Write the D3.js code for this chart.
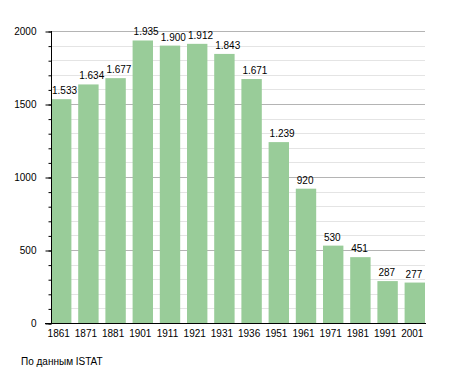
<!DOCTYPE html>
<html>
<head>
<meta charset="utf-8">
<script src="https://cdn.jsdelivr.net/npm/d3@7"></script>
<style>
    body { margin: 0; background: #fff; }
    text { font-family: "Liberation Sans", Arial, sans-serif; fill: #000; }
</style>
</head>
<body>
<div id="chart"></div>
<script>
var years = ["1861", "1871", "1881", "1901", "1911", "1921", "1931", "1936", "1951", "1961", "1971", "1981", "1991", "2001"];
var population = [1533, 1634, 1677, 1935, 1900, 1912, 1843, 1671, 1239, 920, 530, 451, 287, 277];
var majorTicks = [0, 500, 1000, 1500, 2000];
var minorTicks = d3.range(0, 2001, 100);
var source = "По данным  ISTAT";

var width = 455,
    height = 373;

var x = d3.scaleBand().range([51, 425])
    .domain(years)
    .paddingInner(0.25)
    .paddingOuter(0);

var y = d3.scaleLinear().range([323, 31])
    .domain([0, 2000]);

var fmt = d3.formatLocale({decimal: ",", thousands: ".", grouping: [3], currency: ["", ""]}).format(",d");

var svg = d3.select("#chart")
    .append("svg")
    .attr("width", width)
    .attr("height", height);

// minor grid
svg.append("g")
    .selectAll("line")
    .data(minorTicks.filter(d => d % 500 != 0))
    .enter()
    .append("line")
    .attr("x1", 51)
    .attr("x2", 425)
    .attr("y1", d => Math.round(y(d)) + 0.5)
    .attr("y2", d => Math.round(y(d)) + 0.5)
    .style("stroke", "#e4e4e4");

// major grid
svg.append("g")
    .selectAll("line")
    .data(majorTicks.filter(d => d > 0))
    .enter()
    .append("line")
    .attr("x1", 51)
    .attr("x2", 425)
    .attr("y1", d => Math.round(y(d)) + 0.5)
    .attr("y2", d => Math.round(y(d)) + 0.5)
    .style("stroke", "#b4b4b4");

svg.selectAll("rect.bar")
    .data(population)
    .enter()
    .append("rect")
    .attr("class", "bar")
    .attr("x", (d, i) => x(years[i]))
    .attr("y", d => y(d))
    .attr("width", x.bandwidth())
    .attr("height", d => y(0) - y(d))
    .style("fill", "#99cc99");

svg.selectAll("text.val")
    .data(population)
    .enter()
    .append("text")
    .attr("class", "val")
    .attr("x", (d, i) => x(years[i]) + 1)
    .attr("y", d => y(d) - 5)
    .style("font-size", "10px")
    .text(d => fmt(d));

// y axis: minor ticks
var yMinor = d3.axisLeft(y).tickValues(minorTicks).tickSize(3).tickFormat("");
svg.append("g")
    .attr("transform", "translate(51.5,0)")
    .call(yMinor)
    .call(g => g.select(".domain").remove())
    .call(g => g.selectAll("line").attr("transform", "translate(0,0.5)"));

var yAxis = d3.axisLeft(y).tickValues(majorTicks).tickSize(6).tickPadding(9).tickFormat(d3.format("d"));
svg.append("g")
    .attr("transform", "translate(51.5,0)")
    .call(yAxis)
    .call(g => g.select(".domain").attr("d", "M0," + y(2000) + "V" + y(0)))
    .call(g => g.selectAll("line").attr("transform", "translate(0,0.5)"))
    .call(g => g.selectAll("text").style("font-size", "10px").style("font-family", "Liberation Sans, Arial, sans-serif"));

// x axis
var xAxis = d3.axisBottom(x).tickSize(0).tickPadding(6);
svg.append("g")
    .attr("transform", "translate(0," + (y(0) + 0.5) + ")")
    .call(xAxis)
    .call(g => g.select(".domain").attr("d", "M45,0H426"))
    .call(g => g.selectAll("text").attr("dx", -2.5).style("font-size", "10px").style("font-family", "Liberation Sans, Arial, sans-serif"));

svg.append("text")
    .attr("x", 21)
    .attr("y", 365)
    .style("font-size", "10px")
    .text(source);
</script>
</body>
</html>
